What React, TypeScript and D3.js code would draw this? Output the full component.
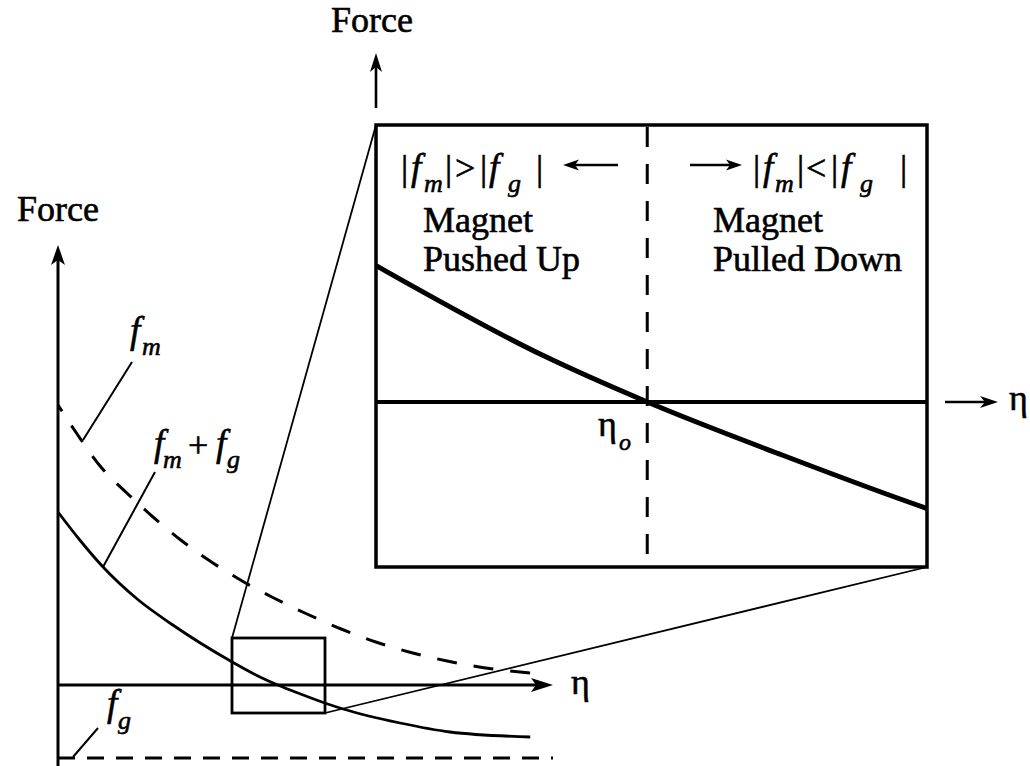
import React from 'react';
import * as d3 from 'd3';

// ---- data ----
// Net force f_m + f_g (solid curve), η in arbitrary units, force in arbitrary units
const netEta = [0.0, 0.44, 0.91, 1.6, 2.32, 3.52, 4.08, 4.44, 4.9, 5.39, 5.76, 6.91, 7.92, 9.54];
const netForce = [1.73, 1.45, 1.18, 0.86, 0.6, 0.23, 0.08, 0.0, -0.09, -0.18, -0.24, -0.38, -0.47, -0.52];
// Magnetic force f_m (dashed curve)
const magEta = [0.0, 0.4, 0.85, 1.39, 1.92, 2.48, 3.07, 3.72, 4.36, 5.03, 5.72, 6.42, 7.13, 7.86, 8.57, 9.54];
const magForce = [2.8, 2.5, 2.19, 1.92, 1.68, 1.45, 1.24, 1.04, 0.87, 0.71, 0.56, 0.43, 0.325, 0.24, 0.175, 0.12];
// Gravity f_g (constant, dashed)
const gravEta = [0, 10];
const gravForce = [-0.73, -0.73];
// Equilibrium height η_o and the zoom window shown in the inset
const etaEquilibrium = 4.44;
const zoomEta = [3.515, 5.394];
const zoomForce = [-0.28, 0.47];
const axisEtaMax = 10;

const FONT = "'Liberation Serif', 'Times New Roman', serif";

function arrowHead(tx: number, ty: number, dx: number, dy: number, len = 20, half = 7, notch = 5) {
  const l = Math.hypot(dx, dy);
  const ux = dx / l, uy = dy / l;
  const px = -uy, py = ux;
  const b1 = [tx - ux * len + px * half, ty - uy * len + py * half];
  const n = [tx - ux * (len - notch), ty - uy * (len - notch)];
  const b2 = [tx - ux * len - px * half, ty - uy * len - py * half];
  return `M${tx},${ty}L${b1[0]},${b1[1]}L${n[0]},${n[1]}L${b2[0]},${b2[1]}Z`;
}

function zip(a: number[], b: number[]): [number, number][] {
  return a.map((v, i) => [v, b[i]]);
}

export default function App() {
  const x = d3.scaleLinear().domain([0, axisEtaMax]).range([58, 553]);
  const y = d3.scaleLinear().domain([0, 1]).range([685, 585]);
  const xi = d3.scaleLinear().domain(zoomEta).range([376, 927]);
  const yi = d3.scaleLinear().domain(zoomForce).range([567, 125]);

  const mainLine = d3
    .line<[number, number]>()
    .x((d) => x(d[0]))
    .y((d) => y(d[1]))
    .curve(d3.curveMonotoneX);
  const insetLine = d3
    .line<[number, number]>()
    .x((d) => xi(d[0]))
    .y((d) => yi(d[1]))
    .curve(d3.curveMonotoneX);

  const net = zip(netEta, netForce);
  const mag = zip(magEta, magForce);
  const grav = zip(gravEta, gravForce);

  const bx0 = x(zoomEta[0]), bx1 = x(zoomEta[1]);
  const by0 = y(zoomForce[1]), by1 = y(zoomForce[0]);
  const ix0 = xi(zoomEta[0]), ix1 = xi(zoomEta[1]);
  const iy0 = yi(zoomForce[1]), iy1 = yi(zoomForce[0]);
  const ax0 = x(0), ay0 = y(0);
  const iAxisY = yi(0);
  const eqX = xi(etaEquilibrium);

  const ink = { fill: '#000', stroke: '#000', strokeWidth: 0.6 } as const;
  const up = { fontFamily: FONT, fontSize: 36, ...ink } as const;
  const it = { fontFamily: FONT, fontSize: 37, fontStyle: 'italic', ...ink } as const;
  const sub = { fontFamily: FONT, fontSize: 26, fontStyle: 'italic', ...ink } as const;

  return (
    <svg
      width={1030}
      height={766}
      style={{ position: 'absolute', left: 0, top: 0 }}
      xmlns="http://www.w3.org/2000/svg"
    >
      <defs>
        <clipPath id="insetClip">
          <rect x={ix0} y={iy0} width={ix1 - ix0} height={iy1 - iy0} />
        </clipPath>
      </defs>
      <rect x={0} y={0} width={1030} height={766} fill="#fff" />

      {/* ---------- main plot ---------- */}
      {/* vertical axis */}
      <line x1={ax0} y1={766} x2={ax0} y2={258} stroke="#000" strokeWidth={3} />
      <path d={arrowHead(ax0, 245, 0, -1, 20, 7, 5)} fill="#000" />
      {/* horizontal axis */}
      <line x1={ax0} y1={ay0} x2={x(axisEtaMax) - 12} y2={ay0} stroke="#000" strokeWidth={3} />
      <path d={arrowHead(x(axisEtaMax), ay0, 1, 0, 22, 7, 5)} fill="#000" />

      {/* f_g dashed */}
      <path d={mainLine(grav) || ''} fill="none" stroke="#000" strokeWidth={3.2} strokeDasharray="17,12" />
      {/* f_m dashed */}
      <path
        d={mainLine(mag) || ''}
        fill="none"
        stroke="#000"
        strokeWidth={3}
        strokeDasharray="20,17"
        strokeDashoffset={12.6}
      />
      {/* f_m + f_g solid */}
      <path d={mainLine(net) || ''} fill="none" stroke="#000" strokeWidth={2.8} />

      {/* zoom box */}
      <rect x={bx0} y={by0} width={bx1 - bx0} height={by1 - by0} fill="none" stroke="#000" strokeWidth={2.8} />
      {/* zoom connector lines */}
      <line x1={bx0} y1={by0} x2={ix0} y2={iy0} stroke="#000" strokeWidth={1.8} />
      <line x1={bx1} y1={by1} x2={ix1} y2={iy1} stroke="#000" strokeWidth={1.8} />

      {/* leader lines */}
      <line x1={132} y1={362} x2={83} y2={440} stroke="#000" strokeWidth={2} />
      <line x1={155} y1={472} x2={103} y2={567} stroke="#000" strokeWidth={2} />
      <line x1={98} y1={728} x2={73} y2={757} stroke="#000" strokeWidth={2} />

      {/* labels main */}
      <text x={17} y={221} {...up}>Force</text>
      <text x={571} y={694} {...up}>η</text>
      <text x={130} y={343} {...it}>f</text>
      <text x={142} y={355} {...sub}>m</text>
      <text x={154} y={456} {...it}>f</text>
      <text x={163} y={468} {...sub}>m</text>
      <text x={188} y={457} {...up}>+</text>
      <text x={216} y={456} {...it}>f</text>
      <text x={227} y={468} {...sub}>g</text>
      <text x={107} y={716} {...it}>f</text>
      <text x={118} y={729} {...sub}>g</text>

      {/* ---------- inset ---------- */}
      <rect x={ix0} y={iy0} width={ix1 - ix0} height={iy1 - iy0} fill="#fff" stroke="#000" strokeWidth={3.5} />
      <line x1={ix0} y1={iAxisY} x2={ix1} y2={iAxisY} stroke="#000" strokeWidth={4} />
      <g clipPath="url(#insetClip)">
        <path d={insetLine(net) || ''} fill="none" stroke="#000" strokeWidth={5} />
      </g>
      <line x1={eqX} y1={127} x2={eqX} y2={554} stroke="#000" strokeWidth={3} strokeDasharray="20,17" />

      {/* top Force arrow */}
      <line x1={ix0} y1={108} x2={ix0} y2={66} stroke="#000" strokeWidth={2.6} />
      <path d={arrowHead(ix0, 53, 0, -1, 19, 6, 5)} fill="#000" />
      <text x={331} y={32} {...up}>Force</text>

      {/* right η arrow */}
      <line x1={945} y1={iAxisY} x2={988} y2={iAxisY} stroke="#000" strokeWidth={2.6} />
      <path d={arrowHead(998, iAxisY, 1, 0, 18, 6, 5)} fill="#000" />
      <text x={1009} y={410} {...up}>η</text>

      {/* η_o */}
      <text x={598} y={436} {...up}>η</text>
      <text x={619} y={450} {...sub} fontSize={24}>o</text>

      {/* left region label */}
      <text x={401} y={180} {...up}>|</text>
      <text x={411} y={180} {...it}>f</text>
      <text x={424} y={192} {...sub}>m</text>
      <text x={445} y={180} {...up}>|</text>
      <text x={455} y={180} {...up}>&gt;</text>
      <text x={480} y={180} {...up}>|</text>
      <text x={489} y={180} {...it}>f</text>
      <text x={508} y={192} {...sub}>g</text>
      <text x={536} y={180} {...up}>|</text>
      <line x1={618} y1={165} x2={574} y2={165} stroke="#000" strokeWidth={2.5} />
      <path d={arrowHead(563, 165, -1, 0, 16, 5.5, 4)} fill="#000" />
      <text x={423} y={232} {...up}>Magnet</text>
      <text x={423} y={271} {...up}>Pushed Up</text>

      {/* right region label */}
      <line x1={690} y1={165} x2={732} y2={165} stroke="#000" strokeWidth={2.5} />
      <path d={arrowHead(742, 165, 1, 0, 16, 5.5, 4)} fill="#000" />
      <text x={753} y={180} {...up}>|</text>
      <text x={763} y={180} {...it}>f</text>
      <text x={775} y={192} {...sub}>m</text>
      <text x={797} y={180} {...up}>|</text>
      <text x={806} y={180} {...up}>&lt;</text>
      <text x={831} y={180} {...up}>|</text>
      <text x={841} y={180} {...it}>f</text>
      <text x={860} y={192} {...sub}>g</text>
      <text x={900} y={180} {...up}>|</text>
      <text x={713} y={232} {...up}>Magnet</text>
      <text x={713} y={271} {...up}>Pulled Down</text>
    </svg>
  );
}
